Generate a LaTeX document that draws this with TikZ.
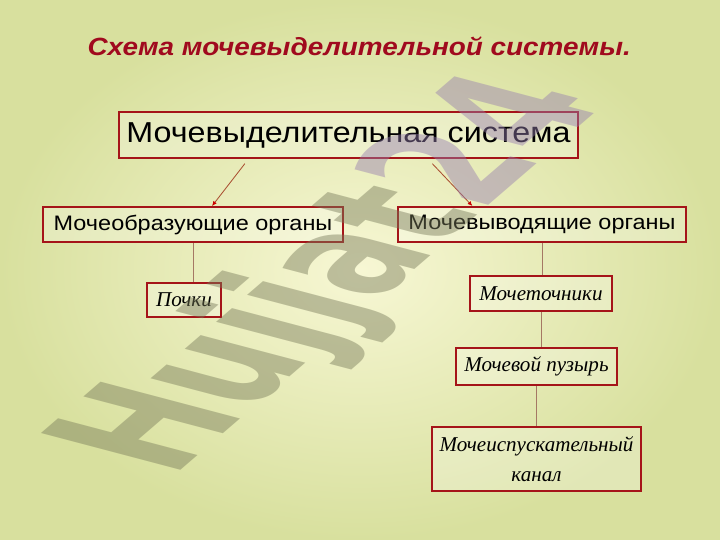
\documentclass[tikz,border=0pt]{standalone}
\usepackage{fontspec}
\setmainfont{Liberation Sans}[FakeStretch=1.12]
\newfontfamily\cursfont{Liberation Serif}
\newfontfamily\wmfont{DejaVu Sans}
\usetikzlibrary{arrows,arrows.meta}
\usetikzlibrary{calc}
\definecolor{rahmen}{RGB}{165,20,25}
\definecolor{titel}{RGB}{160,10,30}
\definecolor{pfeil}{RGB}{170,80,50}
\definecolor{linie}{RGB}{165,120,100}
\definecolor{bginner}{RGB}{247,247,212}
\definecolor{bgouter}{RGB}{216,224,158}
\definecolor{wmgrau}{RGB}{120,122,90}
\definecolor{wmlila}{RGB}{150,125,175}

\begin{document}
\begin{tikzpicture}[
    box/.style={draw=rahmen,line width=1.3pt,fill=white,fill opacity=0.25,text opacity=1,
        inner sep=0pt,align=center,font=\fontsize{14.9}{17}\selectfont},
    sub/.style={box,font=\cursfont\itshape\fontsize{15}{21}\selectfont},
    con/.style={draw=linie,line width=0.6pt},
    arr/.style={draw=pfeil,line width=0.6pt,-{Latex[length=3.5pt,width=3pt,color=red!80!black]}}]
    \useasboundingbox (0,0) rectangle (18,13.5);
    \shade[inner color=bginner,outer color=bgouter] (0,0) rectangle (18,13.5);

    \node (title) at (8.98,12.35) {\color{titel}\bfseries\itshape\fontsize{17.7}{20}\selectfont Схема мочевыделительной системы.};

    \node[box,minimum width=11.475cm,minimum height=1.15cm,font=\fontsize{20.5}{24}\selectfont]
        (mv) at (8.7125,10.125) {Мочевыделительная система};
    \node[box,minimum width=7.5cm,minimum height=0.875cm] (org1) at (4.825,7.8875) {Мочеобразующие органы};
    \node[box,minimum width=7.2cm,minimum height=0.875cm] (org2) at (13.55,7.8875) {Мочевыводящие органы};

    \node[sub,minimum width=1.85cm,minimum height=0.85cm] (pochki) at (4.6,6.0) {Почки};
    \node[sub,minimum width=3.55cm,minimum height=0.875cm] (ureter) at (13.525,6.1625) {Мочеточники};
    \node[sub,minimum width=4.025cm,minimum height=0.925cm] (blase) at (13.4125,4.3375) {Мочевой пузырь};
    \node[sub,minimum width=5.225cm,minimum height=1.6cm] (urethra) at (13.4125,2.025) {Мочеиспускательный\\канал};

    % Pfeile
    \draw[arr] ($(mv.south west)!0.275!(mv.south east)+(0,-0.12)$) -- ($(org1.north west)!0.563!(org1.north east)$);
    \draw[arr] ($(mv.south west)!0.682!(mv.south east)+(0,-0.12)$) -- ($(org2.north west)!0.26!(org2.north east)$);

    % Linien
    \draw[con] (org1.south) -- (org1.south |- pochki.north);
    \draw[con] (org2.south) -- (org2.south |- ureter.north);
    \draw[con] (ureter.south) -- (ureter.south |- blase.north);
    \draw[con] (blase.south) -- (blase.south |- urethra.north);

    % Wasserzeichen
    \begin{scope}[shift={(4.3,1.55)},cm={0.649,0.559,-1.361,0.359,(0,0)}]
        \node[anchor=base west,inner sep=0pt,transform shape,text opacity=0.45]
            (wm) at (0,0) {\wmfont\bfseries\fontsize{100}{100}\selectfont\color{wmgrau}Hujjat\color{wmlila}24};
    \end{scope}
\end{tikzpicture}
\end{document}
